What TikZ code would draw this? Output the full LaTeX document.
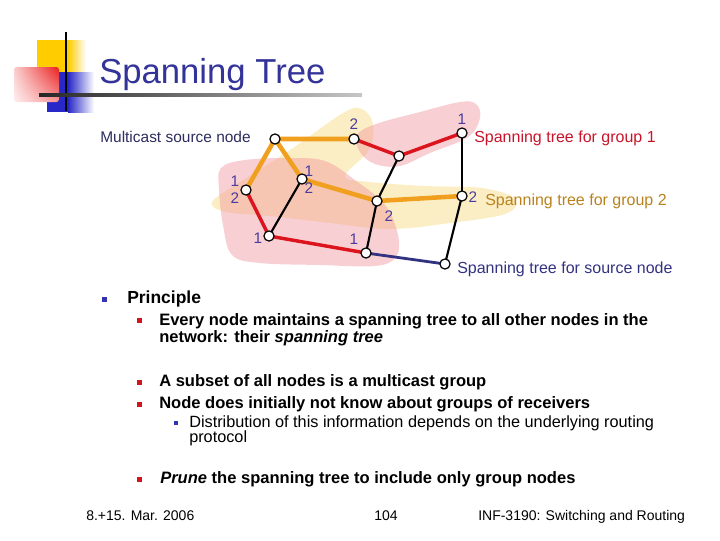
\documentclass[tikz,border=0pt]{standalone}
\usepackage{fontspec}
\setmainfont{Liberation Sans}
\usetikzlibrary{shadings}
\pgfdeclarelayer{blobs}
\pgfdeclarelayer{edges}
\pgfsetlayers{blobs,edges,main}
\definecolor{titleblue}{RGB}{51,51,153}
\definecolor{digitcol}{RGB}{75,60,160}
\definecolor{srcnodecol}{RGB}{45,45,95}
\definecolor{grponecol}{RGB}{200,20,40}
\definecolor{grptwocol}{RGB}{185,130,30}
\definecolor{srclblcol}{RGB}{50,50,130}
\definecolor{orangeline}{RGB}{240,160,30}
\definecolor{redline}{RGB}{220,20,30}
\definecolor{blueline}{RGB}{50,50,130}
\definecolor{pinkblob}{RGB}{240,150,160}
\definecolor{yellowblob}{RGB}{252,238,196}
\definecolor{bulletblue}{RGB}{51,51,180}
\definecolor{bulletred}{RGB}{210,20,30}
\definecolor{logogold}{RGB}{255,204,0}
\definecolor{logoblue}{RGB}{40,40,200}
\definecolor{logored}{RGB}{235,30,30}
\definecolor{logopinkA}{RGB}{250,205,205}
\definecolor{logopinkB}{RGB}{255,238,238}
\definecolor{logopinkC}{RGB}{245,150,150}
\tikzset{
  net/.style={circle, draw=black, fill=white, line width=0.9pt, minimum size=7.6pt, inner sep=0pt},
  digit/.style={text=digitcol, font=\fontsize{11.5}{12}\selectfont, inner sep=0pt},
  txt/.style={anchor=base west, inner sep=0pt},
  olink/.style={draw=orangeline, line width=3.4pt, line join=round, line cap=round},
  rlink/.style={draw=redline, line width=2.6pt, line join=round, line cap=round},
  klink/.style={draw=black, line width=1.6pt},
  blink/.style={draw=blueline, line width=2.1pt},
  lvltwo/.style={txt, font=\fontsize{12.4}{14}\selectfont\bfseries},
  lvlthree/.style={txt, font=\fontsize{12.2}{14}\selectfont},
  foot/.style={txt, font=\fontsize{10.5}{12}\selectfont},
  treelbl/.style={txt, font=\fontsize{12}{14}\selectfont},
}
\begin{document}
\begin{tikzpicture}[x=0.75pt,y=-0.75pt]
\useasboundingbox (0,0) rectangle (720,540);
% ---- logo ----
\fill[logogold] (37,40) rectangle (68,80);
\shade[left color=logogold, right color=white] (68,40) rectangle (86,80);
\fill[logoblue] (47,72) rectangle (68,112);
\shade[left color=logoblue, right color=white] (68,72) rectangle (94,112);
\shade[upper right=logored, upper left=logopinkA, lower left=logopinkB, lower right=logopinkC,
       rounded corners=2pt] (14,67) rectangle (59,102);
\fill[black] (64.8,32) rectangle (67.2,111);
\shade[left color=black!85, right color=black!22] (39,93.8) rectangle (362,96.6);
\node[txt, text=titleblue, font=\fontsize{26}{30}\selectfont] (title) at (99,83) {Spanning Tree};

% ---- network nodes ----
\node[net] (A) at (275,139) {};
\node[net] (B) at (354,139) {};
\node[net] (C) at (399,156) {};
\node[net] (D) at (302,179) {};
\node[net] (E) at (246,190) {};
\node[net] (F) at (269,236) {};
\node[net] (G) at (377,201) {};
\node[net] (H) at (366,253) {};
\node[net] (I) at (462,133) {};
\node[net] (J) at (462,196) {};
\node[net] (K) at (445,264) {};

% ---- blobs ----
\begin{pgfonlayer}{blobs}
\fill[yellowblob] plot[smooth cycle, tension=0.6] coordinates {
  (212,202) (240,182) (290,150) (343,113) (362,109) (373,124) (369,150) (345,176)
  (370,182) (425,186) (482,188) (516,199) (505,214) (450,223) (390,229) (330,223) (270,216) (226,212)};
\fill[pinkblob, fill opacity=0.45] plot[smooth cycle, tension=0.6] coordinates {
  (221,168) (245,160) (290,158) (325,161) (355,180) (385,205) (398,235) (396,257)
  (375,266) (320,265) (260,263) (232,255) (223,225) (219,190)};
\fill[pinkblob, fill opacity=0.45] plot[smooth cycle, tension=0.6] coordinates {
  (357,135) (376,124) (420,112) (460,102) (476,104) (480,118) (468,137) (430,153)
  (400,166) (375,164) (360,152)};
\end{pgfonlayer}

% ---- links ----
\begin{pgfonlayer}{edges}
\draw[klink] (D.center) -- (F.center);
\draw[klink] (C.center) -- (G.center);
\draw[klink] (G.center) -- (H.center);
\draw[klink] (I.center) -- (J.center);
\draw[klink] (J.center) -- (K.center);
\draw[blink] (H.center) -- (K.center);
\draw[rlink] (B.center) -- (C.center) -- (I.center);
\draw[rlink] (E.center) -- (F.center) -- (H.center);
\draw[olink] (E.center) -- (A.center) -- (B.center);
\draw[olink] (A.center) -- (D.center) -- (G.center) -- (J.center);
\end{pgfonlayer}

% ---- digit labels ----
\node[digit] (lB) at (354,124) {2};
\node[digit] (lD1) at (309,171) {1};
\node[digit] (lD2) at (309,188) {2};
\node[digit] (lE1) at (235,181) {1};
\node[digit] (lE2) at (235,198) {2};
\node[digit] (lF) at (258,238) {1};
\node[digit] (lG) at (389,216) {2};
\node[digit] (lH) at (354,239) {1};
\node[digit] (lI) at (462,119) {1};
\node[digit] (lJ) at (473,197) {2};

% ---- tree labels ----
\node[treelbl, text=srcnodecol, font=\fontsize{11.6}{14}\selectfont] (msrc) at (100,142) {Multicast source node};
\node[treelbl, text=grponecol] (g1) at (474,142) {Spanning tree for group 1};
\node[treelbl, text=grptwocol] (g2) at (485,205) {Spanning tree for group 2};
\node[treelbl, text=srclblcol] (sn) at (457,273) {Spanning tree for source node};

% ---- bullets ----
\fill[bulletblue] (101.8,296.8) rectangle (107.2,302.2);
\node[txt, font=\fontsize{13.1}{15}\selectfont\bfseries] (p0) at (127,303) {Principle};
\fill[bulletred] (137,317.5) rectangle (142,322.5);
\node[lvltwo] (p1) at (159,325) {Every node maintains a spanning tree to all other nodes in the};
\node[lvltwo] (p1b) at (159,342) {network: their \textit{spanning tree}};
\fill[bulletred] (137,379.5) rectangle (142,384.5);
\node[lvltwo] (p2) at (159,386) {A subset of all nodes is a multicast group};
\fill[bulletred] (137,401.5) rectangle (142,406.5);
\node[lvltwo] (p3) at (159,408) {Node does initially not know about groups of receivers};
\fill[bulletblue] (174,421) rectangle (178,425);
\node[lvlthree] (p4) at (189,427) {Distribution of this information depends on the underlying routing};
\node[lvlthree] (p4b) at (189,442) {protocol};
\fill[bulletred] (137,477) rectangle (142,482);
\node[lvltwo] (p5) at (160,483) {\textit{Prune} the spanning tree to include only group nodes};

% ---- footer ----
\node[foot] (f1) at (86,520) {8.+15. Mar. 2006};
\node[foot] (f2) at (374,520) {104};
\node[foot] (f3) at (478,520) {INF-3190: Switching and Routing};
\end{tikzpicture}
\end{document}
